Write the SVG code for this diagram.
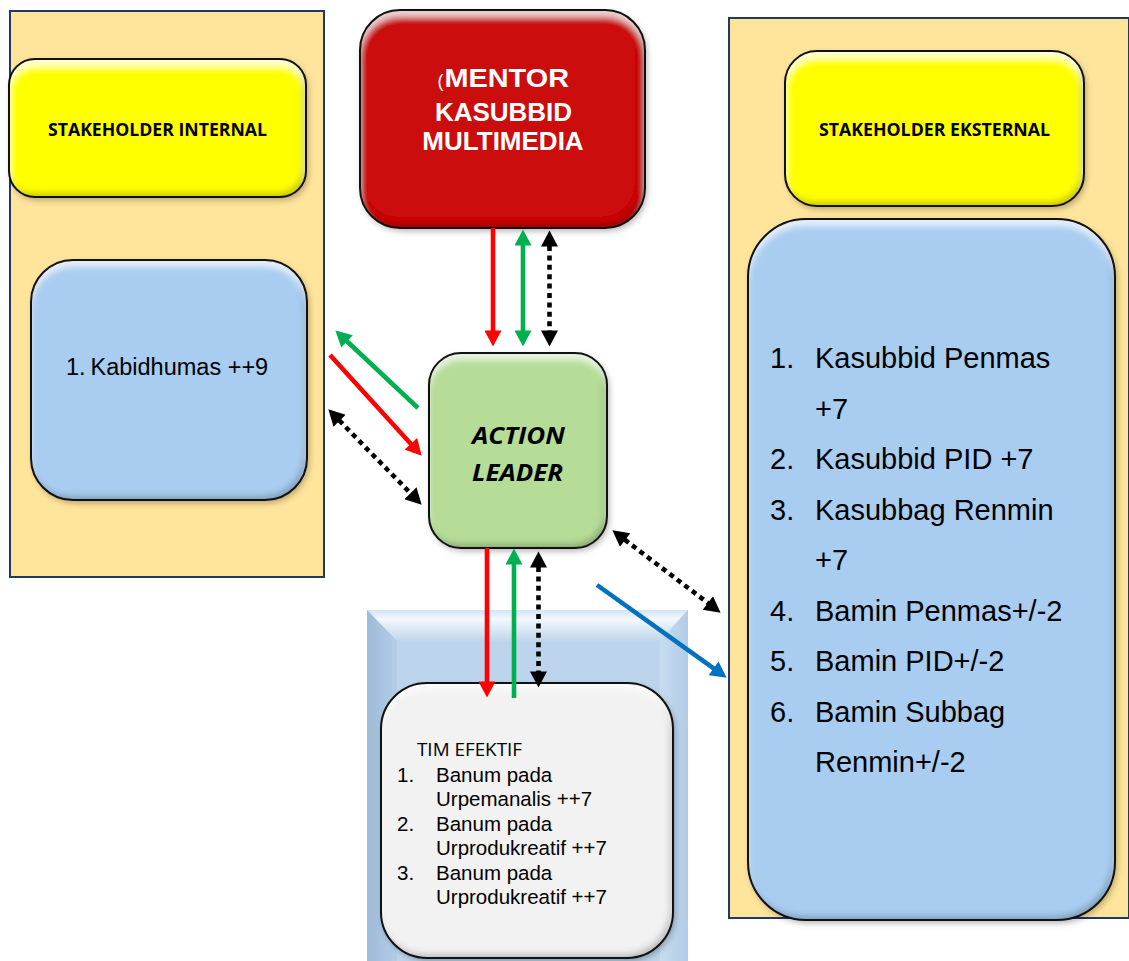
<svg xmlns="http://www.w3.org/2000/svg" width="1129" height="961" viewBox="0 0 1129 961">
<style>
.panel{fill:#FFE59B;stroke:#203864;stroke-width:2}
.edge{fill:none;stroke:#111;stroke-width:2}
.cal{font-family:"Open Sans","Lato",sans-serif}
.ari{font-family:"Liberation Sans",Arial,sans-serif}
.conn{fill:none;stroke-width:4.6}
.dot{stroke-dasharray:5 4.4}
</style>
<defs>
<filter id="bevel" x="-10%" y="-10%" width="125%" height="125%">
<feGaussianBlur in="SourceAlpha" stdDeviation="3" result="b"/>
<feOffset in="b" dx="-3" dy="-4" result="o1"/>
<feComposite in="SourceAlpha" in2="o1" operator="out" result="eBR"/>
<feFlood flood-color="#000" flood-opacity="0.45"/>
<feComposite in2="eBR" operator="in" result="dark"/>
<feOffset in="b" dx="0" dy="7" result="o2"/>
<feComposite in="SourceAlpha" in2="o2" operator="out" result="eT"/>
<feFlood flood-color="#fff" flood-opacity="0.65"/>
<feComposite in2="eT" operator="in" result="light"/>
<feOffset in="b" dx="2" dy="3" result="sh0"/>
<feFlood flood-color="#000" flood-opacity="0.3"/>
<feComposite in2="sh0" operator="in" result="sh"/>
<feMerge><feMergeNode in="sh"/><feMergeNode in="SourceGraphic"/><feMergeNode in="dark"/><feMergeNode in="light"/></feMerge>
</filter>
<linearGradient id="topBev" x1="0" y1="0" x2="0" y2="1">
<stop offset="0" stop-color="#D3E4F4"/>
<stop offset="0.3" stop-color="#F3F8FD"/>
<stop offset="1" stop-color="#BFD6EC"/>
</linearGradient>
<linearGradient id="leftBev" x1="0" y1="0" x2="1" y2="0">
<stop offset="0" stop-color="#9DBAD8"/>
<stop offset="1" stop-color="#B4CEE8"/>
</linearGradient>
<linearGradient id="rightBev" x1="0" y1="0" x2="1" y2="0">
<stop offset="0" stop-color="#C6DCF0"/>
<stop offset="1" stop-color="#B2CCE6"/>
</linearGradient>
<marker id="hRed" markerUnits="userSpaceOnUse" markerWidth="17" markerHeight="17" viewBox="0 0 16 17" refX="0.5" refY="8.5" orient="auto-start-reverse"><path d="M0,0 L16,8.5 L0,17 z" fill="#FF0000"/></marker>
<marker id="hGreen" markerUnits="userSpaceOnUse" markerWidth="17" markerHeight="17" viewBox="0 0 16 17" refX="0.5" refY="8.5" orient="auto-start-reverse"><path d="M0,0 L16,8.5 L0,17 z" fill="#00B050"/></marker>
<marker id="hBlack" markerUnits="userSpaceOnUse" markerWidth="17" markerHeight="17" viewBox="0 0 16 17" refX="0.5" refY="8.5" orient="auto-start-reverse"><path d="M0,0 L16,8.5 L0,17 z" fill="#000"/></marker>
<marker id="hBlue" markerUnits="userSpaceOnUse" markerWidth="17" markerHeight="17" viewBox="0 0 16 17" refX="0.5" refY="8.5" orient="auto-start-reverse"><path d="M0,0 L16,8.5 L0,17 z" fill="#0070C0"/></marker>
</defs>
<rect width="1129" height="961" fill="#fff"/>

<g id="panel-internal">
<rect class="panel" x="10" y="11" width="314" height="566"/>
</g>
<g id="panel-eksternal">
<rect class="panel" x="729" y="18" width="400" height="900"/>
</g>

<g id="stakeholder-internal">
<rect x="9" y="59" width="297" height="138" rx="26" fill="#FFFF00" filter="url(#bevel)"/>
<rect class="edge" x="9" y="59" width="297" height="138" rx="26"/>
<text class="cal" x="157.5" y="136" font-size="18" font-weight="bold" text-anchor="middle" textLength="219" lengthAdjust="spacingAndGlyphs">STAKEHOLDER INTERNAL</text>
</g>

<g id="internal-list">
<rect x="31" y="260" width="276" height="240" rx="42" fill="#A8CDF1" filter="url(#bevel)"/>
<rect class="edge" x="31" y="260" width="276" height="240" rx="42"/>
<text class="ari" font-size="23.5" y="375"><tspan x="66">1.</tspan><tspan x="90.5">Kabidhumas ++9</tspan></text>
</g>

<g id="mentor">
<rect x="360" y="10" width="285" height="218" rx="40" fill="#CB0808" filter="url(#bevel)"/>
<rect class="edge" x="360" y="10" width="285" height="218" rx="40"/>
<text class="ari" fill="#fff" y="87"><tspan x="437.5" font-size="18">(</tspan><tspan x="444.5" font-size="26" font-weight="bold" textLength="124.5" lengthAdjust="spacingAndGlyphs">MENTOR</tspan></text>
<text class="ari" fill="#fff" font-size="26" font-weight="bold" x="503.5" y="121" text-anchor="middle">KASUBBID</text>
<text class="ari" fill="#fff" font-size="26" font-weight="bold" x="503" y="150" text-anchor="middle">MULTIMEDIA</text>
</g>

<g id="action-leader">
<rect x="429" y="353" width="178" height="195" rx="32" fill="#B5DD97" filter="url(#bevel)"/>
<rect class="edge" x="429" y="353" width="178" height="195" rx="32"/>
<text class="cal" font-size="23.5" font-weight="bold" font-style="italic" x="518.5" y="444" text-anchor="middle" textLength="93" lengthAdjust="spacingAndGlyphs">ACTION</text>
<text class="cal" font-size="23.5" font-weight="bold" font-style="italic" x="517.5" y="481" text-anchor="middle" textLength="91" lengthAdjust="spacingAndGlyphs">LEADER</text>
</g>

<g id="tim-efektif-frame">
<rect x="367" y="610" width="321" height="351" fill="#BCD5EC"/>
<path d="M367,610 L688,610 L660,641 L397,641 z" fill="url(#topBev)"/>
<path d="M367,610 L397,641 L397,961 L367,961 z" fill="url(#leftBev)"/>
<path d="M688,610 L660,641 L660,961 L688,961 z" fill="url(#rightBev)"/>
</g>

<g id="tim-efektif">
<rect x="381" y="683" width="292" height="275" rx="46" fill="#F2F2F2" filter="url(#bevel)"/>
<rect class="edge" x="381" y="683" width="292" height="275" rx="46"/>
<text class="cal" font-size="17.8" x="417" y="756" textLength="105" lengthAdjust="spacingAndGlyphs">TIM EFEKTIF</text>
<g class="ari" font-size="20.5">
<text x="397" y="781.5">1.</text><text x="436" y="781.5">Banum pada</text>
<text x="436" y="806">Urpemanalis ++7</text>
<text x="397" y="830.5">2.</text><text x="436" y="830.5">Banum pada</text>
<text x="436" y="855">Urprodukreatif ++7</text>
<text x="397" y="879.5">3.</text><text x="436" y="879.5">Banum pada</text>
<text x="436" y="904">Urprodukreatif ++7</text>
</g>
</g>

<g id="stakeholder-eksternal">
<rect x="785" y="51" width="299" height="155" rx="32" fill="#FFFF00" filter="url(#bevel)"/>
<rect class="edge" x="785" y="51" width="299" height="155" rx="32"/>
<text class="cal" x="934.5" y="136" font-size="18" font-weight="bold" text-anchor="middle" textLength="231" lengthAdjust="spacingAndGlyphs">STAKEHOLDER EKSTERNAL</text>
</g>

<g id="eksternal-list">
<rect x="748" y="219" width="367" height="701" rx="58" fill="#A8CDF1" filter="url(#bevel)"/>
<rect class="edge" x="748" y="219" width="367" height="701" rx="58"/>
<g class="ari" font-size="29">
<text x="770" y="368">1.</text><text x="815" y="368">Kasubbid Penmas</text>
<text x="815" y="418.5">+7</text>
<text x="770" y="469">2.</text><text x="815" y="469">Kasubbid PID +7</text>
<text x="770" y="519.5">3.</text><text x="815" y="519.5">Kasubbag Renmin</text>
<text x="815" y="570">+7</text>
<text x="770" y="620.5">4.</text><text x="815" y="620.5">Bamin Penmas+/-2</text>
<text x="770" y="671">5.</text><text x="815" y="671">Bamin PID+/-2</text>
<text x="770" y="721.5">6.</text><text x="815" y="721.5">Bamin Subbag</text>
<text x="815" y="772">Renmin+/-2</text>
</g>
</g>

<g id="connectors">
<line class="conn" stroke="#FF0000" x1="493" y1="228" x2="493" y2="331" marker-end="url(#hRed)"/>
<line class="conn" stroke="#00B050" x1="523" y1="245" x2="523" y2="331" marker-start="url(#hGreen)" marker-end="url(#hGreen)"/>
<line class="conn dot" stroke="#000" x1="549.5" y1="246" x2="549.5" y2="331" marker-start="url(#hBlack)" marker-end="url(#hBlack)"/>
<line class="conn" stroke="#00B050" x1="418" y1="408" x2="346.7" y2="341" marker-end="url(#hGreen)"/>
<line class="conn" stroke="#FF0000" x1="330" y1="355" x2="411.2" y2="444.2" marker-end="url(#hRed)"/>
<line class="conn dot" stroke="#000" x1="339.2" y1="420.4" x2="410.8" y2="493.6" marker-start="url(#hBlack)" marker-end="url(#hBlack)"/>
<line class="conn" stroke="#FF0000" x1="487" y1="548" x2="487" y2="682" marker-end="url(#hRed)"/>
<line class="conn" stroke="#00B050" x1="514" y1="698" x2="514" y2="564" marker-end="url(#hGreen)"/>
<line class="conn dot" stroke="#000" x1="538.5" y1="567" x2="538.5" y2="672" marker-start="url(#hBlack)" marker-end="url(#hBlack)"/>
<line class="conn dot" stroke="#000" x1="624.7" y1="539.7" x2="708.3" y2="603.3" marker-start="url(#hBlack)" marker-end="url(#hBlack)"/>
<line class="conn" stroke="#0070C0" x1="597" y1="585" x2="714" y2="668.7" marker-end="url(#hBlue)"/>
</g>
</svg>
